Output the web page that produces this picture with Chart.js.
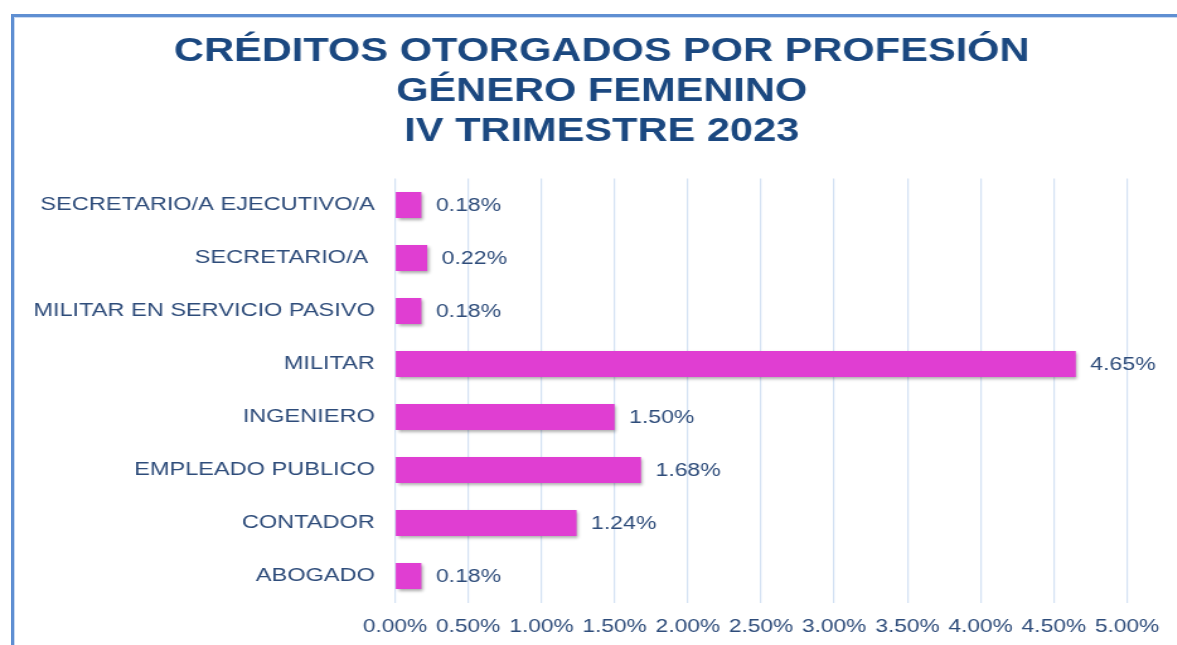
<!DOCTYPE html>
<html>
<head>
<meta charset="utf-8">
<script src="https://cdn.jsdelivr.net/npm/chart.js@4.4.0/dist/chart.umd.min.js"></script>
<style>
  html, body { margin: 0; padding: 0; background: #fff; overflow: hidden; }
  #frame {
    position: absolute; left: 11px; top: 14px; width: 1200px; height: 700px;
    border-left: 3px solid #5f8fd2; border-top: 3px solid #5f8fd2;
    box-shadow: inset 1px 1px 0 #c9daf2;
  }
  /* the source picture is stretched sideways, so the canvas is too */
  #wrap { position: absolute; left: 0; top: 0; width: 934px; height: 645px;
          transform: scaleX(1.26); transform-origin: 0 0; }
</style>
</head>
<body>
<div id="frame"></div>
<div id="wrap"><canvas id="myChart" width="934" height="645"></canvas></div>
<script>
// data
const titleLines = ["CRÉDITOS OTORGADOS POR PROFESIÓN", "GÉNERO FEMENINO", "IV TRIMESTRE 2023"];
const categories = [
  "SECRETARIO/A EJECUTIVO/A",
  "SECRETARIO/A ",
  "MILITAR EN SERVICIO PASIVO",
  "MILITAR",
  "INGENIERO",
  "EMPLEADO PUBLICO",
  "CONTADOR",
  "ABOGADO",
];
const values = [0.18, 0.22, 0.18, 4.65, 1.5, 1.68, 1.24, 0.18];
const xMin = 0;
const xMax = 5;
const xStep = 0.5;

const textColor = "#2e4c7a";
const fontFamily = "'Liberation Sans', Arial, sans-serif";

// soft drop shadow under the bars
const barShadow = {
  id: "barShadow",
  beforeDatasetsDraw(chart) {
    const ctx = chart.ctx;
    ctx.save();
    ctx.shadowColor = "rgba(0,0,0,0.35)";
    ctx.shadowBlur = 3;
    ctx.shadowOffsetX = 1.5;
    ctx.shadowOffsetY = 2;
  },
  afterDatasetsDraw(chart) {
    chart.ctx.restore();
  },
};

// value labels at the end of each bar
const valueLabels = {
  id: "valueLabels",
  afterDatasetsDraw(chart) {
    const ctx = chart.ctx;
    const meta = chart.getDatasetMeta(0);
    ctx.save();
    ctx.font = "18.3px " + fontFamily;
    ctx.fillStyle = textColor;
    ctx.textAlign = "left";
    ctx.textBaseline = "middle";
    meta.data.forEach((bar, i) => {
      ctx.fillText(values[i].toFixed(2) + "%", bar.x + 11.5, bar.y + 1);
    });
    ctx.restore();
  },
};

// move the title a bit to the right, like the original
const titleShift = {
  id: "titleShift",
  afterLayout(chart) {
    if (chart.titleBlock) {
      chart.titleBlock.left += 30;
      chart.titleBlock.right += 30;
    }
  },
};

const data = {
  labels: categories,
  datasets: [
    {
      data: values,
      backgroundColor: "#e03ed2",
      borderWidth: 0,
      categoryPercentage: 1,
      barPercentage: 0.49,
    },
  ],
};

const config = {
  type: "bar",
  data,
  options: {
    indexAxis: "y",
    responsive: false,
    animation: false,
    devicePixelRatio: 1,
    layout: { padding: { left: 0, right: 38.8, top: 0, bottom: 0 } },
    plugins: {
      legend: { display: false },
      tooltip: { enabled: false },
      title: {
        display: true,
        text: titleLines,
        color: "#1b4880",
        font: { family: fontFamily, size: 33, weight: "bold", lineHeight: 40 / 33 },
        padding: { top: 32, bottom: 26.5 },
      },
    },
    scales: {
      x: {
        min: xMin,
        max: xMax,
        afterFit(scale) { scale.height = 42.5; },
        ticks: {
          stepSize: xStep,
          padding: 14,
          color: textColor,
          font: { family: fontFamily, size: 18 },
          callback: (v) => Number(v).toFixed(2) + "%",
        },
        grid: { color: "#d3e1f3", lineWidth: 1.2, drawTicks: false },
        border: { display: false },
      },
      y: {
        afterFit(scale) { scale.width = 313.5; },
        ticks: {
          padding: 16,
          color: textColor,
          font: { family: fontFamily, size: 18.7 },
        },
        grid: { display: false, drawTicks: false },
        border: { display: false },
      },
    },
  },
  plugins: [barShadow, valueLabels, titleShift],
};

const myChart = new Chart(document.getElementById("myChart"), config);
</script>
</body>
</html>
